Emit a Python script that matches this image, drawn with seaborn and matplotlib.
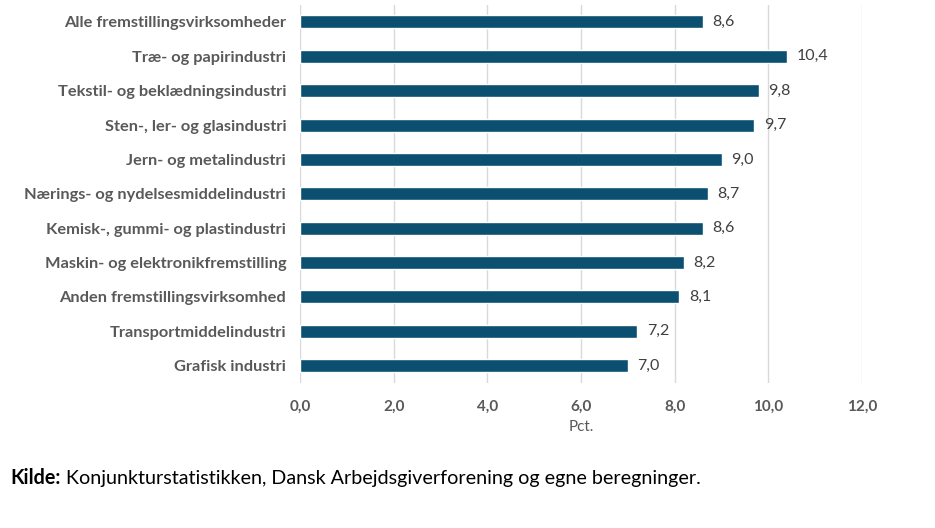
import seaborn as sns
import pandas as pd
import matplotlib.pyplot as plt

kategorier = [
    'Alle fremstillingsvirksomheder',
    'Træ- og papirindustri',
    'Tekstil- og beklædningsindustri',
    'Sten-, ler- og glasindustri',
    'Jern- og metalindustri',
    'Nærings- og nydelsesmiddelindustri',
    'Kemisk-, gummi- og plastindustri',
    'Maskin- og elektronikfremstilling',
    'Anden fremstillingsvirksomhed',
    'Transportmiddelindustri',
    'Grafisk industri',
]
vaerdier = [8.6, 10.4, 9.8, 9.7, 9.0, 8.7, 8.6, 8.2, 8.1, 7.2, 7.0]
xticks = [0, 2, 4, 6, 8, 10, 12]

df = pd.DataFrame({'kategori': kategorier, 'pct': vaerdier})

sns.set_style('white')
plt.rcParams['font.family'] = ['Lato', 'DejaVu Sans']

fig = plt.figure(figsize=(9.35, 5.28), dpi=100)
ax = fig.add_axes([0.321, 0.275, 0.601, 0.716])

sns.barplot(data=df, y='kategori', x='pct', color='#0b4f71', width=0.38,
            saturation=1, ax=ax)

for p, v in zip(ax.patches, vaerdier):
    ax.text(p.get_width() + 0.2, p.get_y() + p.get_height() / 2,
            f'{v:.1f}'.replace('.', ','), va='center', ha='left',
            fontsize=11.5, color='#404040')

ax.set_xlim(0, 12)
ax.set_xticks(xticks)
ax.set_xticklabels([f'{t:.1f}'.replace('.', ',') for t in xticks],
                   fontsize=11, fontweight='bold', color='#595959')
ax.set_yticks(range(len(kategorier)))
ax.set_yticklabels(kategorier, fontsize=11.8, fontweight='bold', color='#595959')
ax.tick_params(axis='x', length=0, pad=12)
ax.tick_params(axis='y', length=0, pad=10)
ax.xaxis.grid(True, color='#d9d9d9', linewidth=1)
ax.set_axisbelow(True)
for s in ax.spines.values():
    s.set_visible(False)
ax.set_ylabel('')
ax.set_xlabel('Pct.', fontsize=11, color='#595959', labelpad=5)

# kildetekst: fed "Kilde:" efterfulgt af normal tekst
t1 = fig.text(0.011, 0.084, 'Kilde:', fontsize=14.2, fontweight='bold', color='black')
fig.canvas.draw()
bb = t1.get_window_extent()
x2 = (bb.x1 + 5) / fig.bbox.width
fig.text(x2, 0.084, 'Konjunkturstatistikken, Dansk Arbejdsgiverforening og egne beregninger.',
         fontsize=14.2, color='black')

fig.savefig('out.png', dpi=100)
